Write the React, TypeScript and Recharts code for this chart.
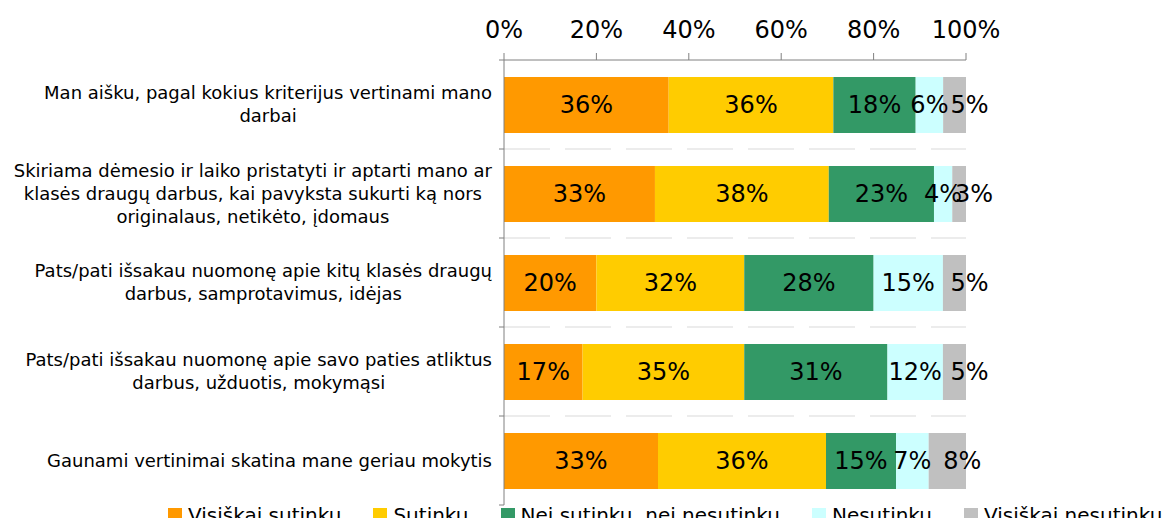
import { BarChart, Bar, XAxis, YAxis, CartesianGrid, LabelList } from 'recharts'

const FONT = '"DejaVu Sans", Verdana, sans-serif'

// category labels, already broken into the lines used in the picture
const categoryLines = [
  ['Man aišku, pagal kokius kriterijus vertinami mano', 'darbai'],
  [
    'Skiriama dėmesio ir laiko pristatyti ir aptarti mano ar',
    'klasės draugų darbus, kai pavyksta sukurti ką nors',
    'originalaus, netikėto, įdomaus',
  ],
  ['Pats/pati išsakau nuomonę apie kitų klasės draugų', 'darbus, samprotavimus, idėjas'],
  ['Pats/pati išsakau nuomonę apie savo paties atliktus', 'darbus, užduotis, mokymąsi'],
  ['Gaunami vertinimai skatina mane geriau mokytis'],
]

const visiskaiSutinku = [36, 33, 20, 17, 33]
const sutinku = [36, 38, 32, 35, 36]
const neiNei = [18, 23, 28, 31, 15]
const nesutinku = [6, 4, 15, 12, 7]
const visiskaiNesutinku = [5, 3, 5, 5, 8]

const xTicks = [0, 0.2, 0.4, 0.6, 0.8, 1]

const series = [
  { key: 'vs', name: 'Visiškai sutinku', color: '#FF9900', values: visiskaiSutinku },
  { key: 's', name: 'Sutinku', color: '#FFCC00', values: sutinku },
  { key: 'nn', name: 'Nei sutinku, nei nesutinku', color: '#339966', values: neiNei },
  { key: 'n', name: 'Nesutinku', color: '#CCFFFF', values: nesutinku },
  { key: 'vn', name: 'Visiškai nesutinku', color: '#C0C0C0', values: visiskaiNesutinku },
]

const data = categoryLines.map((lines, i) => {
  const row: Record<string, any> = { name: lines.join(' ') }
  series.forEach((s) => (row[s.key] = s.values[i]))
  return row
})

const W = 1171
const H = 526
const AXIS_X = 504
const PLOT_TOP = 60
const PLOT_BOTTOM = 505
const BAND = (PLOT_BOTTOM - PLOT_TOP) / categoryLines.length
const CAT_FONT = 18
const LINE_H = 23
const LABEL_RIGHT = 492

let ctx: CanvasRenderingContext2D | null = null
function textWidth(s: string) {
  if (!ctx) ctx = document.createElement('canvas').getContext('2d')
  if (!ctx) return s.length * CAT_FONT * 0.55
  ctx.font = `${CAT_FONT}px "DejaVu Sans"`
  return ctx.measureText(s).width
}

function CatTick(props: any) {
  const { y, payload } = props
  const idx = data.findIndex((d) => d.name === payload.value)
  const lines = categoryLines[idx] || [payload.value]
  const maxW = Math.max(...lines.map(textWidth))
  const cx = LABEL_RIGHT - maxW / 2
  const first = y - ((lines.length - 1) * LINE_H) / 2
  return (
    <g>
      <line x1={AXIS_X - 5} x2={AXIS_X} y1={y - BAND / 2} y2={y - BAND / 2} stroke="#808080" />
      {idx === categoryLines.length - 1 && (
        <line x1={AXIS_X - 5} x2={AXIS_X} y1={y + BAND / 2} y2={y + BAND / 2} stroke="#808080" />
      )}
      {lines.map((l, i) => (
        <text
          key={i}
          x={cx}
          y={first + i * LINE_H + 6}
          textAnchor="middle"
          fontSize={CAT_FONT}
          fontFamily={FONT}
          fill="#000"
        >
          {l}
        </text>
      ))}
    </g>
  )
}

// value label drawn at the segment centre; the last series sits a bit to the right, as in the original
function makeLabel(shift: number) {
  return (props: any) => {
    const { x, y, width, height, value } = props
    return (
      <text
        x={x + width / 2 + shift}
        y={y + height / 2 + 8}
        textAnchor="middle"
        fontSize={24}
        fontFamily={FONT}
        fill="#000"
      >
        {value}%
      </text>
    )
  }
}

export default function App() {
  return (
    <div style={{ position: 'relative', margin: -8, width: W, height: H, overflow: 'hidden', background: '#fff' }}>
      <BarChart
        width={W}
        height={H}
        data={data}
        layout="vertical"
        stackOffset="expand"
        margin={{ top: 0, right: 205, bottom: H - PLOT_BOTTOM, left: 0 }}
      >
        <CartesianGrid
          vertical={false}
          stroke="#d9d9d9"
          strokeDasharray="46 15"
          horizontalCoordinatesGenerator={() =>
            categoryLines.slice(1).map((_, i) => PLOT_TOP + (i + 1) * BAND)
          }
        />
        <XAxis
          type="number"
          orientation="top"
          domain={[0, 1]}
          ticks={xTicks}
          interval={0}
          tickFormatter={(v: number) => Math.round(v * 100) + '%'}
          height={PLOT_TOP}
          tickSize={7}
          tickMargin={15}
          stroke="#808080"
          tick={{ fill: '#000', fontSize: 24, fontFamily: FONT }}
        />
        <YAxis
          type="category"
          dataKey="name"
          width={AXIS_X}
          interval={0}
          tickLine={false}
          stroke="#808080"
          tick={<CatTick />}
        />
        {series.map((s, i) => (
          <Bar key={s.key} dataKey={s.key} name={s.name} stackId="a" fill={s.color} barSize={56} isAnimationActive={false}>
            <LabelList dataKey={s.key} content={makeLabel(i === series.length - 1 ? 15 : 0)} />
          </Bar>
        ))}
      </BarChart>
      <div
        style={{
          position: 'absolute',
          left: 168,
          top: 505,
          display: 'flex',
          gap: 32,
          fontFamily: FONT,
          fontSize: 20,
          lineHeight: '20px',
          whiteSpace: 'nowrap',
        }}
      >
        {series.map((s) => (
          <div key={s.key} style={{ display: 'flex', alignItems: 'center' }}>
            <span style={{ width: 14, height: 14, background: s.color, marginRight: 6, display: 'inline-block' }} />
            <span>{s.name}</span>
          </div>
        ))}
      </div>
    </div>
  )
}
